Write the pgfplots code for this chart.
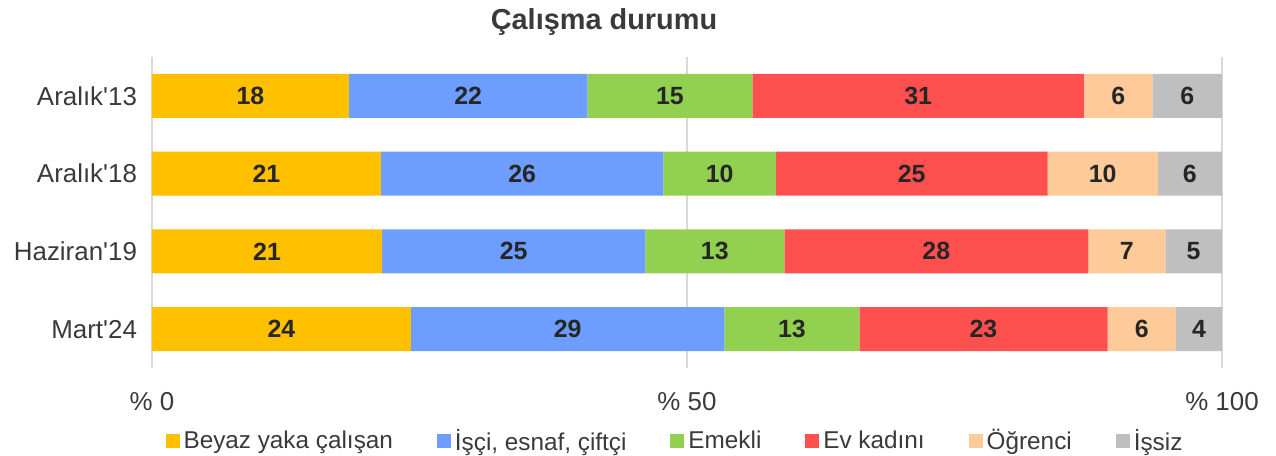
\documentclass[border=0pt]{standalone}
\usepackage{pgfplots}
\pgfplotsset{compat=1.18}
\usepackage{fontspec}
\setmainfont{Liberation Sans}[Ligatures=TeXOff]
\definecolor{cYel}{HTML}{FFC000}
\definecolor{cBlu}{HTML}{6C9DFF}
\definecolor{cGrn}{HTML}{92D050}
\definecolor{cRed}{HTML}{FF5050}
\definecolor{cPea}{HTML}{FFCA99}
\definecolor{cGry}{HTML}{BFBFBF}
\definecolor{txt}{HTML}{3A3A3A}
\definecolor{lbl}{HTML}{262626}
\definecolor{gridc}{HTML}{D9D9D9}
\begin{document}
\begin{tikzpicture}
\path[use as bounding box] (-76bp,-44bp) rectangle (562bp,184bp);
\begin{axis}[
  at={(0,0)}, anchor=south west,
  scale only axis, width=535bp, height=155.5bp,
  xbar stacked, bar width=22bp,
  xmin=0, xmax=100, ymin=-0.5, ymax=3.5,
  axis line style={draw=none},
  tick style={draw=none},
  xmajorgrids, ymajorgrids=false,
  grid style={color=gridc, line width=0.75bp},
  xtick={0,50,100},
  xticklabels={\% 0,\% 50,\% 100},
  ytick={0,1,2,3},
  yticklabels={Mart'24,Haziran'19,Aralık'18,Aralık'13},
  xticklabel style={anchor=base, yshift=-21bp, font=\fontsize{13}{15}\selectfont, text=txt},
  yticklabel style={font=\fontsize{13}{15}\selectfont, text=txt, xshift=-4bp},
  point meta=explicit symbolic,
  nodes near coords,
  every node near coord/.append style={anchor=center, font=\bfseries\fontsize{12.5}{14}\selectfont, text=lbl},
  legend columns=6,
  legend style={draw=none, at={(axis description cs:0.4897,-0.2347)}, anchor=center, font=\fontsize{12.2}{14}\selectfont, text=txt,
    /tikz/every even column/.append style={column sep=20bp}},
  legend image code/.code={\fill[#1] (0bp,-3.5bp) rectangle (7bp,3.5bp);},
]
\addplot[fill=cYel, draw=none] coordinates {(18.4,3) [18] (21.4,2) [21] (21.5,1) [21] (24.2,0) [24]};
\addlegendentry{Beyaz yaka çalışan}
\addplot[fill=cBlu, draw=none] coordinates {(22.3,3) [22] (26.4,2) [26] (24.6,1) [25] (29.3,0) [29]};
\addlegendentry{İşçi, esnaf, çiftçi}
\addplot[fill=cGrn, draw=none] coordinates {(15.4,3) [15] (10.5,2) [10] (13.0,1) [13] (12.6,0) [13]};
\addlegendentry{Emekli}
\addplot[fill=cRed, draw=none] coordinates {(31.0,3) [31] (25.4,2) [25] (28.4,1) [28] (23.2,0) [23]};
\addlegendentry{Ev kadını}
\addplot[fill=cPea, draw=none] coordinates {(6.4,3) [6] (10.3,2) [10] (7.2,1) [7] (6.4,0) [6]};
\addlegendentry{Öğrenci}
\addplot[fill=cGry, draw=none] coordinates {(6.5,3) [6] (6.0,2) [6] (5.3,1) [5] (4.3,0) [4]};
\addlegendentry{İşsiz}
\end{axis}
\node[anchor=base, font=\bfseries\fontsize{14.5}{16}\selectfont, text=txt] at (226bp,169bp) {Çalışma durumu};
\end{tikzpicture}
\end{document}
